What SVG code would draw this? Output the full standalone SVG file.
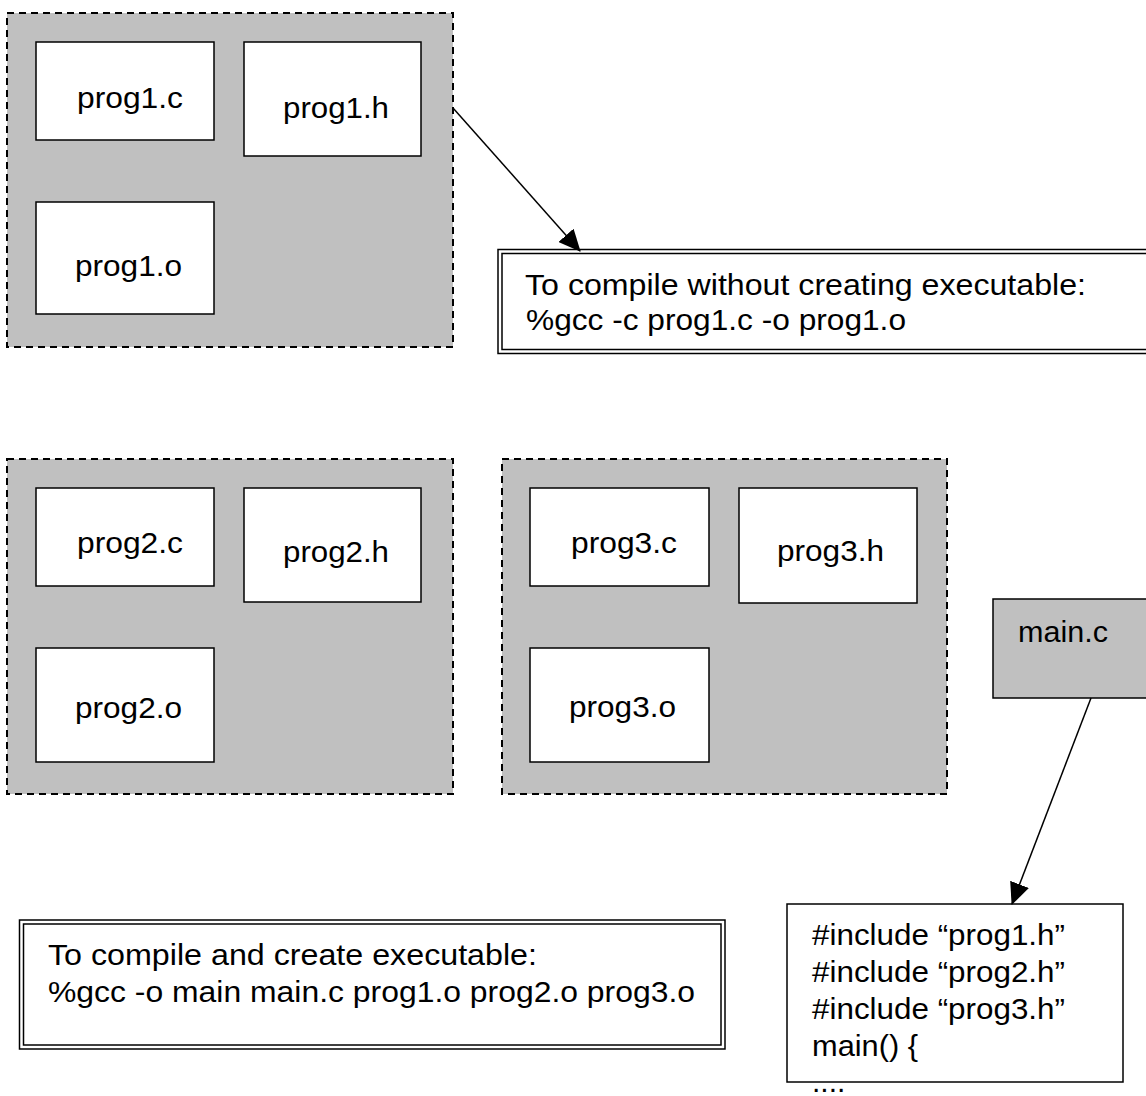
<svg xmlns="http://www.w3.org/2000/svg" width="1146" height="1096" viewBox="0 0 1146 1096">
<style>
  text { font-family: "Liberation Sans", Arial, sans-serif; font-size: 30px; fill: #000; }
  .grp { fill: #c0c0c0; stroke: #000; stroke-width: 2; stroke-dasharray: 7 5; }
  .file { fill: #fff; stroke: #000; stroke-width: 1.5; }
  .gray { fill: #c0c0c0; stroke: #000; stroke-width: 1.5; }
  .dbl { fill: #fff; stroke: #000; stroke-width: 1.5; }
  .dbl2 { fill: none; stroke: #000; stroke-width: 1.5; }
  .conn { fill: none; stroke: #000; stroke-width: 1.5; }
</style>
<defs>
  <marker id="arrow" markerUnits="userSpaceOnUse" viewBox="0 0 22 20" refX="21" refY="10" markerWidth="22" markerHeight="20" orient="auto">
    <path d="M0,0 L22,10 L0,20 z" fill="#000"/>
  </marker>
</defs>
<rect width="1146" height="1096" fill="#fff"/>

<g id="group1">
  <rect class="grp" x="7" y="13" width="446" height="334"/>
  <g id="prog1c"><rect class="file" x="36" y="42" width="178" height="98"/><text x="77" y="108" textLength="106" lengthAdjust="spacingAndGlyphs">prog1.c</text></g>
  <g id="prog1h"><rect class="file" x="244" y="42" width="177" height="114"/><text x="283" y="118" textLength="106" lengthAdjust="spacingAndGlyphs">prog1.h</text></g>
  <g id="prog1o"><rect class="file" x="36" y="202" width="178" height="112"/><text x="75" y="276" textLength="107" lengthAdjust="spacingAndGlyphs">prog1.o</text></g>
</g>

<g id="group2">
  <rect class="grp" x="7" y="459" width="446" height="335"/>
  <g id="prog2c"><rect class="file" x="36" y="488" width="178" height="98"/><text x="77" y="553" textLength="106" lengthAdjust="spacingAndGlyphs">prog2.c</text></g>
  <g id="prog2h"><rect class="file" x="244" y="488" width="177" height="114"/><text x="283" y="562" textLength="106" lengthAdjust="spacingAndGlyphs">prog2.h</text></g>
  <g id="prog2o"><rect class="file" x="36" y="648" width="178" height="114"/><text x="75" y="718" textLength="107" lengthAdjust="spacingAndGlyphs">prog2.o</text></g>
</g>

<g id="group3">
  <rect class="grp" x="502" y="459" width="445" height="335"/>
  <g id="prog3c"><rect class="file" x="530" y="488" width="179" height="98"/><text x="571" y="553" textLength="106" lengthAdjust="spacingAndGlyphs">prog3.c</text></g>
  <g id="prog3h"><rect class="file" x="739" y="488" width="178" height="115"/><text x="777" y="561" textLength="107" lengthAdjust="spacingAndGlyphs">prog3.h</text></g>
  <g id="prog3o"><rect class="file" x="530" y="648" width="179" height="114"/><text x="569" y="717" textLength="107" lengthAdjust="spacingAndGlyphs">prog3.o</text></g>
</g>

<g id="mainc">
  <rect class="gray" x="993" y="599" width="160" height="99"/>
  <text x="1018" y="642" textLength="90" lengthAdjust="spacingAndGlyphs">main.c</text>
</g>

<g id="note1">
  <rect class="dbl" x="498" y="249.5" width="660" height="104"/>
  <rect class="dbl2" x="502" y="253.5" width="660" height="96"/>
  <text x="525" y="295" textLength="561" lengthAdjust="spacingAndGlyphs">To compile without creating executable:</text>
  <text x="526" y="330" textLength="380" lengthAdjust="spacingAndGlyphs">%gcc -c prog1.c -o prog1.o</text>
</g>

<g id="note2">
  <rect class="dbl" x="19.5" y="920" width="705.5" height="129"/>
  <rect class="dbl2" x="23.5" y="924" width="697.5" height="121"/>
  <text x="48" y="965" textLength="489" lengthAdjust="spacingAndGlyphs">To compile and create executable:</text>
  <text x="48" y="1002" textLength="647" lengthAdjust="spacingAndGlyphs">%gcc -o main main.c prog1.o prog2.o prog3.o</text>
</g>

<g id="mainsrc">
  <rect class="file" x="787" y="904" width="336" height="178"/>
  <text x="812" y="945" textLength="253" lengthAdjust="spacingAndGlyphs">#include “prog1.h”</text>
  <text x="812" y="982" textLength="253" lengthAdjust="spacingAndGlyphs">#include “prog2.h”</text>
  <text x="812" y="1019" textLength="253" lengthAdjust="spacingAndGlyphs">#include “prog3.h”</text>
  <text x="812" y="1056" textLength="106" lengthAdjust="spacingAndGlyphs">main() {</text>
  <text x="812" y="1092">....</text>
</g>

<g id="connectors">
  <line class="conn" x1="453" y1="108" x2="580" y2="251" marker-end="url(#arrow)"/>
  <line class="conn" x1="1091" y1="698" x2="1012" y2="904" marker-end="url(#arrow)"/>
</g>
</svg>
